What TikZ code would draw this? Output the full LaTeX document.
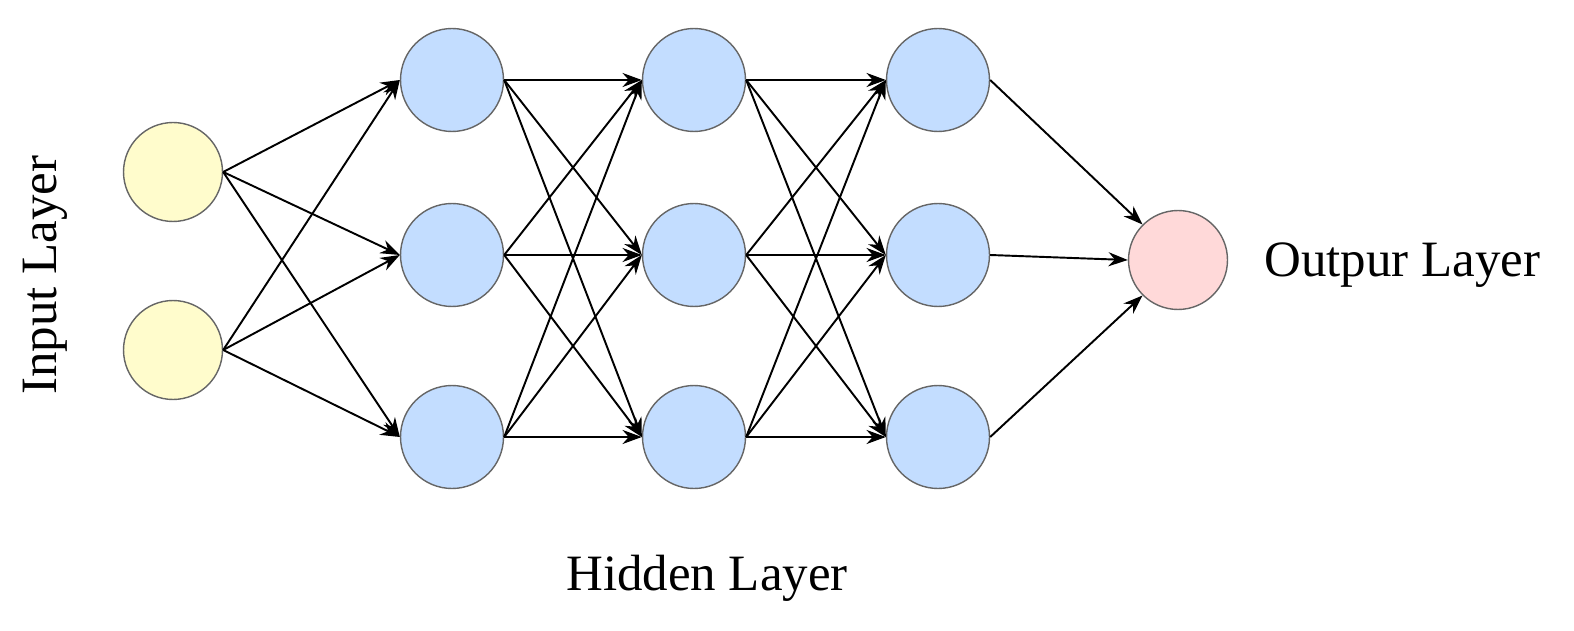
\documentclass[tikz,border=0pt]{standalone}
\usepackage{fontspec}
\setmainfont{Liberation Serif}
\usetikzlibrary{arrows.meta}
\begin{document}
\begin{tikzpicture}[x=0.02cm,y=-0.02cm,
  neu/.style={circle,draw=black!60,line width=0.8pt,minimum size=2.06cm,inner sep=0pt},
  inp/.style={neu,fill=yellow!20,minimum size=1.98cm},
  hid/.style={neu,fill=blue!15!white!90!cyan},
  outn/.style={neu,fill=red!15,minimum size=1.98cm},
  con/.style={-{Stealth[length=11pt,width=8pt]},line width=1.1pt,black},
  lab/.style={font=\fontsize{29}{34}\selectfont}]
\useasboundingbox (0,0) rectangle (1574,631);
\node[inp] (i1) at (173,172) {};
\node[inp] (i2) at (173,350) {};
\foreach \n/\x in {1/452,2/694,3/938}{
  \node[hid] (h\n a) at (\x,80) {};
  \node[hid] (h\n b) at (\x,255) {};
  \node[hid] (h\n c) at (\x,437) {};
}
\node[outn] (o) at (1178,260) {};
\foreach \s in {i1,i2}{\foreach \t in {h1a,h1b,h1c}{\draw[con] (\s.east) -- (\t.west);}}
\foreach \s in {h1a,h1b,h1c}{\foreach \t in {h2a,h2b,h2c}{\draw[con] (\s.east) -- (\t.west);}}
\foreach \s in {h2a,h2b,h2c}{\foreach \t in {h3a,h3b,h3c}{\draw[con] (\s.east) -- (\t.west);}}
\draw[con] (h3a.east) -- (o.north west);
\draw[con] (h3b.east) -- (o.west);
\draw[con] (h3c.east) -- (o.south west);
\node[lab,rotate=90] (il) at (45,275) {Input Layer};
\node[lab,anchor=west] (ol) at (1258,265) {Outpur Layer};
\node[lab] (hl) at (707,578) {Hidden Layer};
\end{tikzpicture}
\end{document}
